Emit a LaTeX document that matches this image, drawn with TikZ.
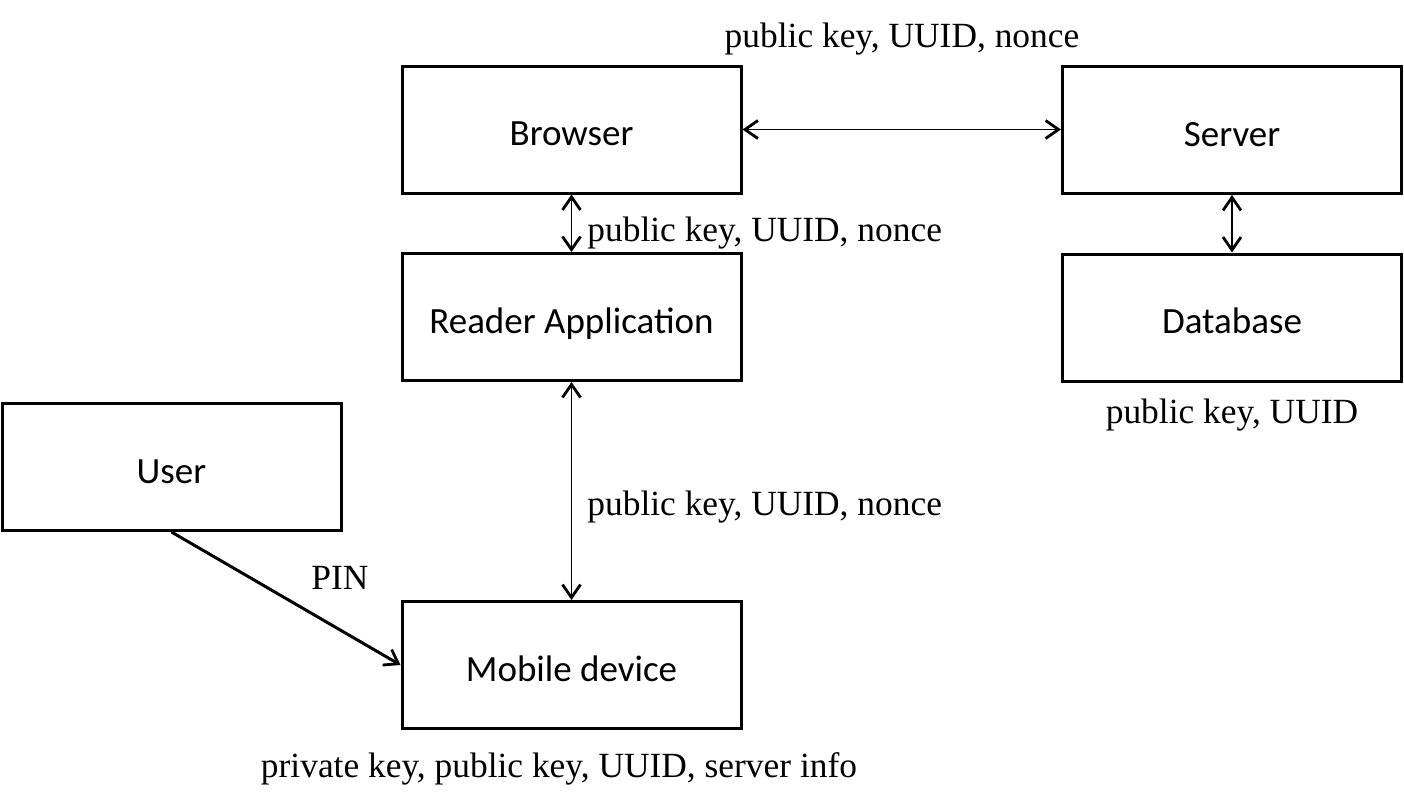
\documentclass[tikz,border=0pt]{standalone}
\usepackage{fontspec}
\setmainfont{Liberation Serif}
\newfontfamily\boxfont{Carlito}
\usetikzlibrary{arrows.meta}
\tikzset{
  blk/.style={draw=black, line width=1.5pt, minimum width=169.5pt, minimum height=63.5pt, inner sep=0pt, text height=16pt, text depth=0pt, font=\boxfont\fontsize{18.5pt}{22pt}\selectfont},
  lbl/.style={inner sep=0pt, anchor=base, font=\fontsize{17.7pt}{21pt}\selectfont},
  tip/.tip={Straight Barb[length=6.5pt, width=9pt, line width=1.4pt]},
  link/.style={line width=0.75pt, {tip}-{tip}},
  thicklink/.style={line width=1.5pt, -{tip}}
}
\begin{document}
\begin{tikzpicture}[x=0.5pt, y=-0.5pt]
\useasboundingbox (0,0) rectangle (1404,794);
\node[blk] (browser) at (571.5,129.5) {Browser};
\node[blk] (server) at (1232,130) {Server};
\node[blk] (reader) at (571.5,317) {Reader Application};
\node[blk] (db) at (1232,317.5) {Database};
\node[blk] (user) at (171.5,467) {User};
\node[blk] (mobile) at (571.5,665) {Mobile device};

\draw[link] (browser.east) -- (browser.east -| server.west);
\draw[link] (browser.south) -- (reader.north);
\draw[link] (server.south) -- (db.north);
\draw[link] (reader.south) -- (mobile.north);
\draw[thicklink] (user.south) -- (mobile.west);

\node[lbl] (l1) at (902,47) {public key, UUID, nonce};
\node[lbl, anchor=base west] (l2) at (587,241) {public key, UUID, nonce};
\node[lbl, anchor=base west] (l3) at (587,515) {public key, UUID, nonce};
\node[lbl] (l4) at (1232,423) {public key, UUID};
\node[lbl] (l5) at (340,589) {PIN};
\node[lbl] (l6) at (559,777) {private key, public key, UUID, server info};
\end{tikzpicture}
\end{document}
